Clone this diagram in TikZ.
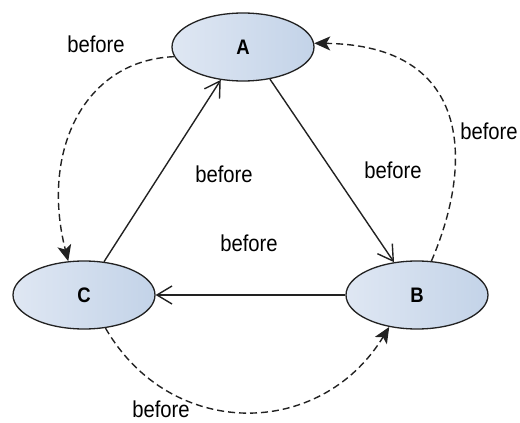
\documentclass[tikz,border=0pt]{standalone}
\usepackage{fontspec}
\usetikzlibrary{shapes.geometric,arrows.meta}
\newfontfamily\lblfont[FakeStretch=0.88]{Liberation Sans}
\definecolor{nodeleft}{HTML}{DFE7F3}
\definecolor{noderight}{HTML}{C3D3E8}
\definecolor{edgegray}{HTML}{222222}
\begin{document}
\begin{tikzpicture}[x=1pt,y=-1pt,
  state/.style={ellipse, draw=edgegray, line width=1.3pt,
    left color=nodeleft, right color=noderight,
    minimum width=142pt, minimum height=68pt, inner sep=0pt,
    font=\lblfont\fontsize{21}{21}\selectfont\bfseries},
  lbl/.style={font=\lblfont\fontsize{23}{23}\selectfont, inner sep=0pt},
  rel/.style={draw=edgegray, line width=1.4pt,
    -{Straight Barb[length=15pt,width=18pt,line width=1.4pt]}},
  relweak/.style={draw=edgegray, line width=1.4pt, dash pattern=on 7pt off 4pt,
    -{Stealth[length=16pt,width=14pt,inset=4pt]}}]
  \useasboundingbox (0,0) rectangle (520,423);

  % states
  \node[state] (A) at (243,47) {A};
  \node[state] (B) at (417,295) {B};
  \node[state] (C) at (84,295) {C};

  % direct ordering
  \draw[rel] (A.-50) -- (B.125);
  \draw[rel] (B.180) -- (C.0);
  \draw[rel] (C.59) -- (A.236);

  % reverse ordering
  \draw[relweak] (A.188) .. controls (85,60) and (40,150) .. (C.115);
  \draw[relweak] (B.67) .. controls (475,160) and (470,45) .. (A.3);
  \draw[relweak] (C.-57) .. controls (170,440) and (320,440) .. (B.229);

  % edge labels
  \node[lbl] (l1) at (96,44) {before};
  \node[lbl] (l2) at (224,174) {before};
  \node[lbl] (l3) at (393,170) {before};
  \node[lbl] (l4) at (249,243) {before};
  \node[lbl] (l5) at (489,131) {before};
  \node[lbl] (l6) at (161,409) {before};
\end{tikzpicture}
\end{document}
